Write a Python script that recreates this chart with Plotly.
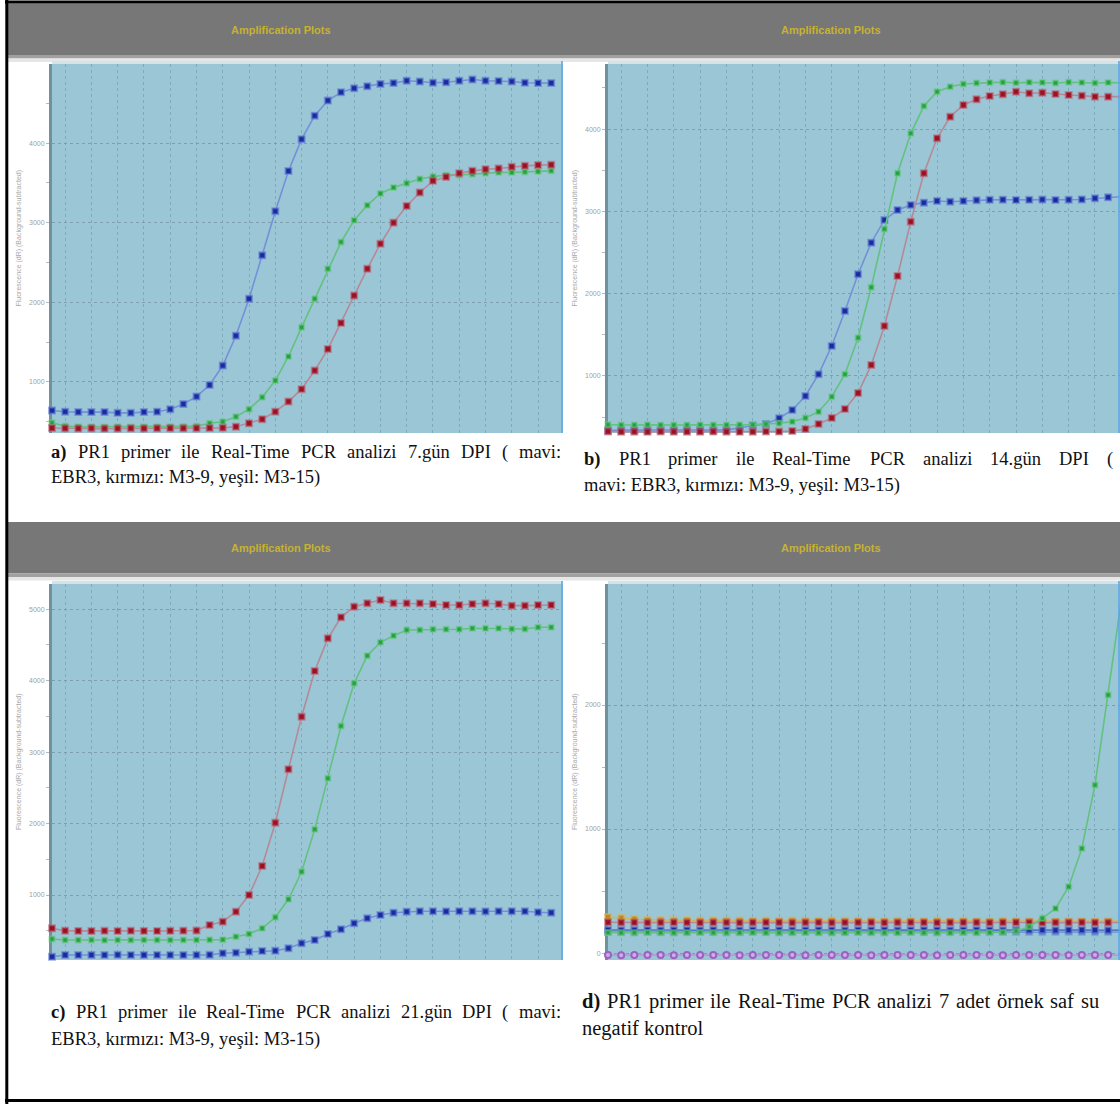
import plotly.graph_objects as go

W, H = 1120, 1104

# ---------------- data ----------------
CYCLES_AC = list(range(1, 40))
CYCLES_BD = list(range(1, 41))

# a) 7. gün DPI
A_BLUE = [640, 625, 620, 620, 620, 610, 610, 620, 625, 655, 720, 815, 960, 1205, 1580,
          2045, 2590, 3145, 3650, 4050, 4345, 4535, 4640, 4690, 4715, 4745, 4755, 4785,
          4775, 4760, 4765, 4785, 4800, 4785, 4780, 4775, 4760, 4755, 4755]
A_GREEN = [485, 445, 436, 436, 433, 436, 433, 436, 436, 439, 440, 443, 479, 499, 562,
           656, 807, 1016, 1319, 1685, 2043, 2421, 2757, 3030, 3219, 3367, 3443, 3497,
           3550, 3580, 3598, 3600, 3610, 3623, 3632, 3632, 3639, 3644, 3652]
A_RED = [420, 416, 414, 416, 412, 414, 416, 414, 416, 418, 416, 418, 420, 422, 436,
         479, 530, 625, 752, 908, 1142, 1412, 1740, 2084, 2421, 2736, 3001, 3211,
         3380, 3526, 3576, 3623, 3652, 3673, 3682, 3702, 3715, 3724, 3728]

# b) 14. gün DPI
B_BLUE = [340, 345, 342, 344, 346, 343, 345, 344, 342, 345, 368, 399, 417, 486, 587,
          757, 1021, 1365, 1790, 2236, 2620, 2896, 3017, 3078, 3106, 3127, 3118, 3127,
          3135, 3140, 3142, 3138, 3140, 3143, 3139, 3141, 3145, 3159, 3171, 3179]
B_GREEN = [408, 404, 405, 406, 403, 405, 404, 406, 405, 404, 406, 407, 417, 425, 445,
           490, 566, 748, 1021, 1465, 2078, 2786, 3463, 3949, 4280, 4454, 4515, 4548,
           4560, 4565, 4570, 4562, 4568, 4566, 4560, 4570, 4565, 4560, 4566, 4562]
B_RED = [325, 322, 323, 321, 324, 322, 323, 322, 324, 323, 321, 323, 325, 324, 332,
         356, 417, 490, 599, 793, 1134, 1607, 2215, 2875, 3463, 3888, 4150, 4293,
         4362, 4402, 4423, 4454, 4435, 4442, 4426, 4414, 4406, 4394, 4394, 4394]

# c) 21. gün DPI
C_RED = [534, 501, 498, 496, 499, 497, 500, 498, 497, 499, 501, 503, 581, 627, 767,
         1000, 1406, 2012, 2759, 3495, 4134, 4591, 4885, 5034, 5081, 5127, 5081, 5081,
         5081, 5071, 5057, 5057, 5071, 5081, 5071, 5048, 5048, 5057, 5057]
C_GREEN = [385, 371, 370, 372, 369, 371, 370, 372, 371, 370, 372, 371, 373, 376, 417,
           455, 534, 688, 940, 1326, 1919, 2633, 3365, 3962, 4348, 4535, 4628, 4708,
           4708, 4717, 4717, 4717, 4731, 4731, 4731, 4722, 4722, 4745, 4745]
C_BLUE = [137, 161, 160, 162, 160, 163, 161, 160, 162, 161, 160, 162, 163, 185, 193,
          207, 217, 221, 255, 325, 371, 455, 520, 604, 674, 720, 753, 767,
          772, 772, 771, 773, 772, 771, 772, 773, 772, 758, 753]

# d) 7 örnek + saf su negatif kontrol
D_ORANGE = [290, 282, 274, 266, 266, 264, 266, 262, 264, 262, 263, 261, 262, 260, 262,
            261, 260, 262, 261, 260, 261, 259, 260, 261, 259, 260, 258, 260, 259, 258,
            260, 259, 258, 259, 257, 258, 259, 257, 258, 257]
D_RED = [248, 246, 247, 245, 246, 247, 246, 245, 247, 246, 245, 246, 247, 246, 245,
         246, 247, 245, 246, 246, 247, 245, 246, 247, 246, 245, 246, 247, 246, 245,
         246, 247, 246, 245, 246, 246, 247, 245, 246, 246]
D_NAVY = [186, 184, 185, 186, 184, 185, 185, 184, 186, 185, 184, 185, 186, 185, 184,
          185, 186, 185, 184, 185, 185, 186, 184, 185, 186, 185, 184, 185, 186, 185,
          184, 185, 185, 186, 184, 185, 186, 185, 184, 185]
D_STEEL = [170, 169, 168, 170, 169, 168, 169, 170, 169, 168, 169, 170, 169, 168, 169,
           170, 169, 168, 169, 170, 169, 168, 169, 170, 169, 168, 169, 170, 169, 168,
           169, 170, 169, 168, 169, 170, 169, 168, 169, 170]
D_GREEN = [166, 164, 163, 165, 164, 163, 164, 165, 164, 163, 164, 165, 164, 163, 164,
           165, 164, 163, 164, 165, 164, 163, 164, 165, 164, 163, 164, 165, 164, 166,
           168, 177, 212, 280, 360, 535, 844, 1355, 2081, 2847]
D_PURPLE = [-16, -17, -16, -15, -16, -17, -16, -16, -15, -16, -17, -16, -16, -15, -16,
            -17, -16, -16, -15, -16, -17, -16, -16, -15, -16, -17, -16, -16, -15, -16,
            -17, -16, -16, -15, -16, -17, -16, -16, -15, -16]

# y-axis ranges and tick steps of the four amplification plots
Y_RANGE = {"a": [357, 4995], "b": [307, 4791], "c": [91, 5351], "d": [-56, 2976]}
Y_DTICK = 1000
X_RANGE = [1, 39.9]

HEADER_TEXT = "Amplification Plots"
Y_TITLE = "Fluorescence (dR) (Background-subtracted)"

CAPTIONS = {
    "a": ("a)", "PR1 primer ile Real-Time PCR analizi 7.gün DPI ( mavi:",
          "EBR3, kırmızı: M3-9, yeşil: M3-15)"),
    "b": ("b)", "PR1 primer ile Real-Time PCR analizi 14.gün DPI (",
          "mavi: EBR3, kırmızı: M3-9, yeşil: M3-15)"),
    "c": ("c)", "PR1 primer ile Real-Time PCR analizi 21.gün DPI ( mavi:",
          "EBR3, kırmızı: M3-9, yeşil: M3-15)"),
    "d": ("d)", "PR1 primer ile Real-Time PCR analizi 7 adet örnek saf su",
          "negatif kontrol"),
}

# ---------------- styles ----------------
STYLE = {
    "blue":   dict(line="#7391d8", fill="#1c2b9c", edge="rgba(95,125,215,0.6)", size=6, sym="square"),
    "red":    dict(line="#b48a98", fill="#9a1222", edge="rgba(185,95,115,0.55)", size=6, sym="square"),
    "green":  dict(line="#62c27f", fill="#22a043", edge="rgba(105,200,125,0.55)", size=5, sym="square"),
    "orange": dict(line="#d2b45e", fill="#c08a22", edge="rgba(215,180,90,0.6)", size=6, sym="square"),
    "navy":   dict(line="#5a76c4", fill="#1c2b9c", edge="rgba(95,125,215,0.6)", size=6, sym="square"),
    "steel":  dict(line="#6d9bd2", fill="#4a7cb8", edge="rgba(120,160,215,0.6)", size=6, sym="square"),
    "purple": dict(line="#bb92d8", fill="#cfaee6", edge="#9a62c2", size=6, sym="circle"),
}

PANELS = {
    "a": dict(x=(52, 563), y=(64, 433), n="", cyc=CYCLES_AC,
              series=[("blue", A_BLUE), ("green", A_GREEN), ("red", A_RED)]),
    "b": dict(x=(608, 1120), y=(64, 433), n="2", cyc=CYCLES_BD,
              series=[("blue", B_BLUE), ("green", B_GREEN), ("red", B_RED)]),
    "c": dict(x=(52, 563), y=(584, 960), n="3", cyc=CYCLES_AC,
              series=[("blue", C_BLUE), ("green", C_GREEN), ("red", C_RED)]),
    "d": dict(x=(608, 1120), y=(584, 960), n="4", cyc=CYCLES_BD,
              series=[("purple", D_PURPLE), ("steel", D_STEEL), ("navy", D_NAVY),
                      ("orange", D_ORANGE), ("red", D_RED), ("green", D_GREEN)]),
}

# left, right (justified first line), line-1 y, line-2 y, font size
CAPTION_POS = {
    "a": (50, 560, 452, 477, 18.5),
    "b": (583, 1112, 459, 485, 18.5),
    "c": (50, 560, 1012, 1039, 18.5),
    "d": (581, 1098, 1001, 1028, 20.5),
}


def fx(px):
    return px / W


def fy(py):
    return 1 - py / H


fig = go.Figure()

for key, p in PANELS.items():
    xa = "x" + p["n"]
    ya = "y" + p["n"]
    for color, vals in p["series"]:
        s = STYLE[color]
        fig.add_trace(go.Scatter(
            x=p["cyc"], y=vals, xaxis=xa, yaxis=ya, mode="lines+markers",
            line=dict(color=s["line"], width=1.6),
            marker=dict(symbol=s["sym"], size=s["size"], color=s["fill"],
                        line=dict(color=s["edge"], width=2)),
            cliponaxis=False, hoverinfo="skip", showlegend=False,
        ))

    x0, x1 = p["x"]
    y0, y1 = p["y"]
    fig.layout["xaxis" + p["n"]] = dict(
        domain=[fx(x0), fx(x1)], anchor=ya, range=X_RANGE,
        showgrid=True, gridcolor="rgba(112,158,176,0.7)", griddash="3px,3px", gridwidth=1,
        dtick=2, tick0=0, showticklabels=False, ticks="", zeroline=False, showline=False,
    )
    fig.layout["yaxis" + p["n"]] = dict(
        domain=[fy(y1), fy(y0)], anchor=xa, range=Y_RANGE[key],
        showgrid=True, gridcolor="rgba(118,146,160,0.75)", griddash="3px,3px", gridwidth=1,
        dtick=Y_DTICK, tick0=0, tickfont=dict(size=7, color="#a0a0a0", family="Arial"),
        ticks="outside", ticklen=3, tickcolor="#b8b8b8",
        minor=dict(dtick=Y_DTICK / 2, ticks="outside", ticklen=3, tickcolor="#b8b8b8", showgrid=False),
        showline=True, linecolor="#6f929e", linewidth=3, zeroline=False, layer="below traces",
    )

shapes = []
annotations = []


def rect(x0, y0, x1, y1, color):
    shapes.append(dict(type="rect", xref="paper", yref="paper", x0=fx(x0), x1=fx(x1),
                       y0=fy(y1), y1=fy(y0), fillcolor=color, line=dict(width=0), layer="below"))


# grey title bars of the two rows
for top in (3.5, 522):
    rect(8, top, W, top + 51.5, "#777777")
    rect(8, top + 51.5, W, top + 55, "#a0a0a0")
    rect(8, top + 55, W, top + 58.5, "#e6e6e6")
    for cx in (281, 831):
        annotations.append(dict(text=HEADER_TEXT, xref="paper", yref="paper", x=fx(cx),
                                y=fy(top + 26), showarrow=False, xanchor="center", yanchor="middle",
                                font=dict(family="Arial", size=11, color="#c6b232", weight="bold")))

for key, p in PANELS.items():
    x0, x1 = p["x"]
    y0, y1 = p["y"]
    # pale band along the top of each plot area
    rect(x0, y0 - 3, x1, y0, "#d3e3ea")
    # thin right-hand frame line
    shapes.append(dict(type="line", xref="paper", yref="paper", x0=fx(x1 - 1), x1=fx(x1 - 1),
                       y0=fy(y1), y1=fy(y0 - 3), line=dict(color="#5aa6e6", width=1.5), layer="above"))
    # y-axis title
    annotations.append(dict(text=Y_TITLE, xref="paper", yref="paper", x=fx(x0 - 33),
                            y=fy((y0 + y1) / 2 - 10), showarrow=False, textangle=-90,
                            xanchor="center", yanchor="middle",
                            font=dict(family="Arial", size=7, color="#a8a8a8")))

# outer black frame
shapes.append(dict(type="line", xref="paper", yref="paper", x0=fx(6.8), x1=fx(6.8), y0=0, y1=1,
                   line=dict(color="black", width=3)))
shapes.append(dict(type="line", xref="paper", yref="paper", x0=fx(5), x1=1, y0=fy(2), y1=fy(2),
                   line=dict(color="black", width=3)))
shapes.append(dict(type="line", xref="paper", yref="paper", x0=fx(5), x1=1, y0=fy(1100.5), y1=fy(1100.5),
                   line=dict(color="black", width=3)))

# ---------------- captions (Times metrics, justified first line) ----------------
TNR = {" ": 250, "(": 333, ")": 333, ",": 250, "-": 333, ".": 250, ":": 278,
       "A": 722, "B": 667, "C": 667, "D": 722, "E": 611, "I": 333, "M": 889, "P": 556,
       "R": 667, "T": 611,
       "a": 444, "b": 500, "c": 444, "d": 500, "e": 444, "f": 333, "g": 500, "h": 500,
       "i": 278, "k": 500, "l": 278, "m": 778, "n": 500, "o": 500, "p": 500, "r": 333,
       "s": 389, "t": 278, "u": 500, "v": 500, "y": 500, "z": 444,
       "ı": 278, "ş": 389, "ü": 500, "ö": 500}
TNR_BOLD = {"a": 500, "b": 556, "c": 444, "d": 556, ")": 333}


def width(word, table, size):
    return sum(table.get(ch, 500 if ch.isdigit() else 480) for ch in word) * size / 1000


def cap_word(text, x, y, size, bold=False):
    annotations.append(dict(text=f"<b>{text}</b>" if bold else text, xref="paper", yref="paper",
                            x=fx(x), y=fy(y), showarrow=False, xanchor="left", yanchor="middle",
                            borderpad=0,
                            font=dict(family="Liberation Serif", size=size, color="#111111")))


for key, (label, line1, line2) in CAPTIONS.items():
    left, right, ya, yb, size = CAPTION_POS[key]
    words = [(label, True)] + [(w, False) for w in line1.split(" ")]
    widths = [width(w, TNR_BOLD if b else TNR, size) for w, b in words]
    gap = (right - left - sum(widths)) / (len(words) - 1)
    x = left
    for (w, b), wd in zip(words, widths):
        cap_word(w, x, ya, size, bold=b)
        x += wd + gap
    cap_word(line2, left, yb, size)

fig.update_layout(
    width=W, height=H, autosize=False, margin=dict(l=0, r=0, t=0, b=0),
    paper_bgcolor="white", plot_bgcolor="#9bc6d6", showlegend=False,
    shapes=shapes, annotations=annotations,
)

fig.write_html("out.html")
